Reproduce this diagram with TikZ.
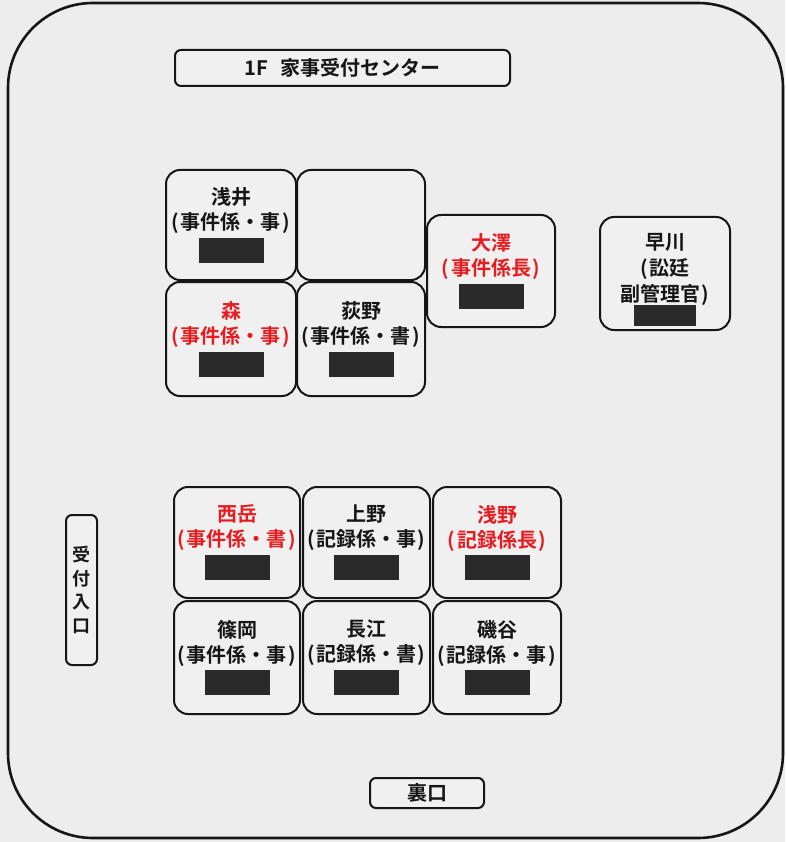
\documentclass[tikz,border=0pt]{standalone}
\usepackage{fontspec}
\setmainfont{Noto Sans CJK JP}[BoldFont={Noto Sans CJK JP Bold}]
\definecolor{paper}{RGB}{237,237,237}
\definecolor{boxfill}{RGB}{240,240,240}
\definecolor{redtxt}{RGB}{232,28,32}
\definecolor{ink}{RGB}{22,22,22}
\definecolor{blackout}{RGB}{42,42,42}
\newcommand{\redact}{{\color{blackout}\rule{65pt}{25pt}}}
\newcommand{\role}[1]{(\kern1.5pt #1\kern1.5pt)}
\begin{document}
\begin{tikzpicture}[x=1pt,y=-1pt,
  seat/.style={draw=ink, line width=2pt, rounded corners=14pt, fill=boxfill,
    align=center, inner sep=0pt, text=ink, text width=122pt,
    font=\bfseries\fontsize{20}{25}\selectfont},
  redseat/.style={seat, text=redtxt},
  sign/.style={draw=ink, line width=2pt, rounded corners=6pt, fill=boxfill,
    align=center, inner sep=0pt, text=ink,
    font=\bfseries\fontsize{20}{24}\selectfont},
  frame/.style={draw=ink, line width=2.6pt, rounded corners=85pt}]
\useasboundingbox (0,0) rectangle (785,842);
\fill[paper] (0,0) rectangle (785,842);
\draw[frame] (8,3) rectangle (783,838);

% title
\node[sign, minimum width=335pt, minimum height=36pt] (title) at (342.5,68) {1F\hspace{12pt}家事受付センター};

% upper group
\node[seat, minimum width=130pt, minimum height=110pt] (asai) at (231,225)
  {浅井\\\role{事件係・事}\\[3pt]\redact};
\node[seat, minimum width=128pt, minimum height=110pt] (empty) at (361,225) {};
\node[redseat, minimum width=130pt, minimum height=114pt] (mori) at (231,339)
  {森\\\role{事件係・事}\\[3pt]\redact};
\node[seat, minimum width=128pt, minimum height=114pt] (ogino) at (361,339)
  {荻野\\\role{事件係・書}\\[3pt]\redact};
\node[redseat, minimum width=128pt, minimum height=112pt] (osawa) at (491,271)
  {大澤\\\role{事件係長}\\[3pt]\redact};
\node[seat, minimum width=130pt, minimum height=113pt,
  font=\bfseries\fontsize{20}{26}\selectfont] (hayakawa) at (665,273.5)
  {\rule{0pt}{28pt}早川\\(\kern1.5pt 訟廷\\副管理官\kern1.5pt)\\[-1pt]{\color{blackout}\rule{62pt}{21pt}}};

% lower group
\node[redseat, minimum width=126pt, minimum height=111pt] (nishitake) at (237,542.5)
  {西岳\\\role{事件係・書}\\[3pt]\redact};
\node[seat, minimum width=127pt, minimum height=111pt] (ueno) at (366.5,542.5)
  {上野\\\role{記録係・事}\\[3pt]\redact};
\node[redseat, minimum width=128pt, minimum height=111pt] (asano) at (497,542.5)
  {浅野\\\role{記録係長}\\[3pt]\redact};
\node[seat, minimum width=126pt, minimum height=113pt] (shinooka) at (237,657.5)
  {篠岡\\\role{事件係・事}\\[3pt]\redact};
\node[seat, minimum width=127pt, minimum height=113pt] (nagae) at (366.5,657.5)
  {長江\\\role{記録係・書}\\[3pt]\redact};
\node[seat, minimum width=128pt, minimum height=113pt] (isotani) at (497,657.5)
  {磯谷\\\role{記録係・事}\\[3pt]\redact};

% entrances
\node[sign, minimum width=31pt, minimum height=150pt,
  font=\bfseries\fontsize{18}{23.5}\selectfont] (uketsuke) at (81.5,590)
  {受\\付\\入\\口};
\node[sign, minimum width=114pt, minimum height=30pt] (uraguchi) at (427,793) {裏口};
\end{tikzpicture}
\end{document}
